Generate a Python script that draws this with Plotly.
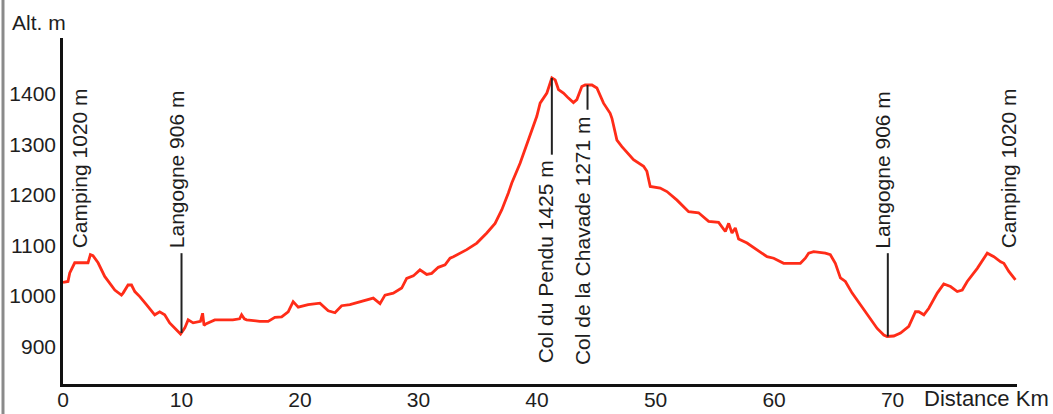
import plotly.graph_objects as go

# Elevation profile (distance km, altitude m)
distance_km = [0.0, 0.42, 0.57, 0.99, 2.11, 2.31, 2.53, 2.96, 3.52, 4.09, 4.37, 4.93, 5.07, 5.49, 5.78,
               6.06, 6.48, 7.04, 7.74, 8.16, 8.58, 9.0, 9.42, 9.92, 10.28, 10.56, 10.98, 11.27, 11.6,
               11.78, 11.9, 12.05, 12.25, 12.81, 13.49, 14.33, 14.9, 15.07, 15.3, 15.49, 16.6, 17.31,
               17.88, 18.45, 19.0, 19.42, 19.85, 20.69, 21.68, 22.38, 22.95, 23.51, 24.21, 26.18,
               26.75, 27.17, 27.87, 28.58, 29.0, 29.56, 30.12, 30.69, 31.11, 31.67, 32.24, 32.66,
               32.94, 33.5, 34.07, 34.92, 35.76, 36.46, 37.03, 37.58, 37.87, 38.57, 38.99, 39.42,
               39.98, 40.26, 40.83, 41.25, 41.53, 41.81, 42.23, 42.65, 43.07, 43.36, 43.78, 44.06,
               44.63, 45.05, 45.61, 46.17, 46.32, 46.74, 47.16, 48.14, 48.99, 49.27, 49.55, 50.39,
               50.96, 51.81, 52.79, 53.63, 54.48, 55.32, 55.89, 56.17, 56.45, 56.73, 57.01, 57.72,
               58.56, 59.41, 59.97, 60.81, 62.22, 62.64, 62.92, 63.34, 64.33, 64.75, 65.17, 65.6,
               66.02, 66.59, 67.29, 67.99, 68.7, 69.26, 69.54, 70.1, 70.67, 71.37, 71.93, 72.21,
               72.64, 73.06, 73.77, 74.32, 74.89, 75.46, 75.88, 76.3, 77.15, 77.99, 78.55, 79.12,
               79.39, 79.81, 80.37]
altitude_m = [1027, 1029, 1046, 1066, 1066, 1082, 1080, 1066, 1039, 1022, 1012, 1002, 1006, 1022, 1022,
              1009, 999, 983, 963, 969, 963, 947, 937, 925, 937, 953, 947, 948, 950,
              966, 942, 945, 947, 953, 953, 953, 955, 963, 955, 953, 950, 950,
              958, 959, 969, 989, 978, 983, 986, 971, 967, 981, 983, 996,
              985, 1002, 1006, 1016, 1035, 1040, 1052, 1043, 1045, 1057, 1062, 1075,
              1078, 1085, 1092, 1105, 1125, 1144, 1171, 1204, 1224, 1263, 1290, 1316,
              1356, 1382, 1402, 1432, 1428, 1409, 1402, 1392, 1383, 1389, 1415, 1418,
              1418, 1412, 1382, 1362, 1352, 1309, 1296, 1270, 1257, 1247, 1217, 1214,
              1207, 1190, 1167, 1165, 1148, 1146, 1128, 1144, 1125, 1135, 1113, 1105,
              1092, 1078, 1075, 1065, 1065, 1075, 1085, 1088, 1085, 1082, 1065, 1036,
              1029, 1006, 983, 959, 936, 923, 920, 921, 927, 940, 969, 969,
              963, 976, 1006, 1024, 1019, 1009, 1012, 1029, 1055, 1085, 1078, 1068,
              1065, 1049, 1032]

# Tick labels
x_ticks = [0, 10, 20, 30, 40, 50, 60, 70]
y_ticks = [900, 1000, 1100, 1200, 1300, 1400]

# Place labels
label_texts = ["Camping 1020 m", "Langogne 906 m", "Col du Pendu 1425 m",
               "Col de la Chavade 1271 m", "Langogne 906 m", "Camping 1020 m"]
label_km = [1.41, 9.58, 40.68, 43.78, 69.12, 79.8]
label_alt = [1092, 1092, 1270, 1359, 1092, 1092]
label_anchor = ["bottom", "bottom", "top", "top", "bottom", "bottom"]

# Leader lines (km, bottom alt, top alt)
leader_km = [10.0, 41.25, 44.26, 69.6]
leader_low = [927, 1280, 1369, 920]
leader_high = [1085, 1432, 1418, 1085]

FONT = "Liberation Sans, Arial, Helvetica, sans-serif"
TXT = "#1e1e1e"
FS = 21

fig = go.Figure()
fig.add_trace(go.Scatter(x=distance_km, y=altitude_m, mode="lines",
                         line=dict(color="#ff2c18", width=2.8), hoverinfo="skip"))

for t, x, y, a in zip(label_texts, label_km, label_alt, label_anchor):
    fig.add_annotation(x=x, y=y, xref="x", yref="y", text=t, textangle=-90,
                       showarrow=False, xanchor="center", yanchor=a,
                       font=dict(family=FONT, size=FS, color=TXT), borderpad=0)

for x, y0, y1 in zip(leader_km, leader_low, leader_high):
    fig.add_shape(type="line", xref="x", yref="y", x0=x, x1=x, y0=y0, y1=y1,
                  line=dict(color="#222222", width=2))

fig.add_annotation(x=-0.056, y=1.046, xref="paper", yref="paper", text="Alt. m",
                   showarrow=False, xanchor="left", yanchor="middle",
                   font=dict(family=FONT, size=FS, color=TXT))
fig.add_annotation(x=0.9, y=-0.043, xref="paper", yref="paper", text="Distance Km",
                   showarrow=False, xanchor="left", yanchor="middle",
                   font=dict(family=FONT, size=22, color=TXT))

# left frame border
fig.add_shape(type="line", xref="paper", yref="paper", x0=-0.0629, x1=-0.0629,
              y0=-0.1, y1=1.12, line=dict(color="#8a8a8a", width=3))

fig.update_layout(
    width=1053, height=414,
    margin=dict(l=63, r=36, t=38, b=30, autoexpand=False),
    paper_bgcolor="white", plot_bgcolor="white",
    showlegend=False,
    font=dict(family=FONT, size=FS, color=TXT),
    xaxis=dict(range=[0, 80.5], tickvals=x_ticks, ticktext=[str(v) for v in x_ticks],
               showgrid=False, zeroline=False, showline=True, linecolor="#111111",
               linewidth=2.5, ticks="", automargin=False, ticklabelstandoff=-5,
               tickfont=dict(family=FONT, size=FS, color=TXT)),
    yaxis=dict(range=[826, 1511], tickvals=y_ticks, ticktext=[str(v) for v in y_ticks],
               showgrid=False, zeroline=False, showline=True, linecolor="#111111",
               linewidth=2.5, ticks="", automargin=False,
               tickfont=dict(family=FONT, size=FS, color=TXT)),
)

fig.write_html("out.html", config={"displayModeBar": False},
               post_script="document.body.style.margin='0';document.body.style.overflow='hidden';")
